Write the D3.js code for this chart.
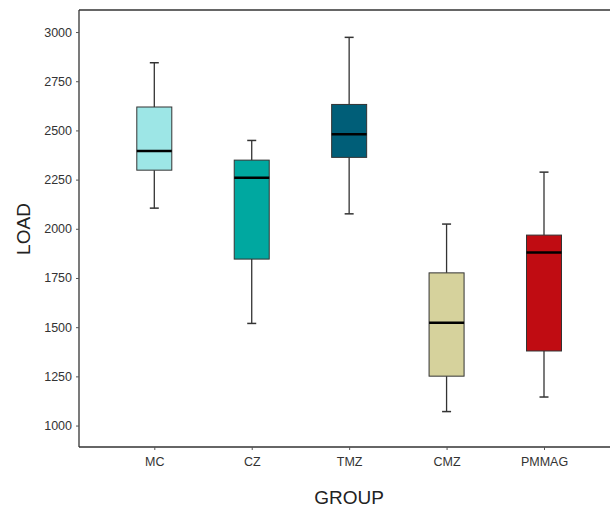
<!DOCTYPE html>
<html><head><meta charset="utf-8">
<script src="https://cdn.jsdelivr.net/npm/d3@7"></script>
<style>body{margin:0;background:#fff}svg{display:block}text{font-family:"Liberation Sans",Arial,sans-serif}</style>
</head><body>
<svg id="c" width="610" height="513"></svg>
<script>
const groups = ["MC","CZ","TMZ","CMZ","PMMAG"];
const whiskerLow = [2105,1519,2076,1071,1145];
const q1 = [2298,1846,2363,1251,1379];
const median = [2395,2259,2480,1522,1880];
const q3 = [2619,2349,2632,1776,1968];
const whiskerHigh = [2844,2449,2973,2024,2288];
const colors = ["#9de6e6","#00a8a0","#005e78","#d6d29c","#c00c12"];
const yTicks = [1000,1250,1500,1750,2000,2250,2500,2750,3000];

(function(){
const svg = d3.select("#c");
const pL = 79, pR = 612, pT = 10, pB = 447;
const x = d3.scalePoint().domain(groups).range([154.3,544]);
const y = d3.scaleLinear().domain([891,3112]).range([pB, pT]);
const bw = 35, cap = 9;

svg.append("line").attr("x1",pL).attr("x2",pR).attr("y1",pT).attr("y2",pT).attr("stroke","#333").attr("stroke-width",1.3);

const data = groups.map((g,i)=>({g,lo:whiskerLow[i],q1:q1[i],med:median[i],q3:q3[i],hi:whiskerHigh[i],c:colors[i]}));
const gb = svg.append("g").selectAll("g").data(data).join("g");
gb.append("line").attr("x1",d=>x(d.g)).attr("x2",d=>x(d.g)).attr("y1",d=>y(d.hi)).attr("y2",d=>y(d.q3)).attr("stroke","#333").attr("stroke-width",1.3);
gb.append("line").attr("x1",d=>x(d.g)).attr("x2",d=>x(d.g)).attr("y1",d=>y(d.q1)).attr("y2",d=>y(d.lo)).attr("stroke","#333").attr("stroke-width",1.3);
gb.append("line").attr("x1",d=>x(d.g)-cap/2).attr("x2",d=>x(d.g)+cap/2).attr("y1",d=>y(d.hi)).attr("y2",d=>y(d.hi)).attr("stroke","#333").attr("stroke-width",1.5);
gb.append("line").attr("x1",d=>x(d.g)-cap/2).attr("x2",d=>x(d.g)+cap/2).attr("y1",d=>y(d.lo)).attr("y2",d=>y(d.lo)).attr("stroke","#333").attr("stroke-width",1.5);
gb.append("rect").attr("x",d=>x(d.g)-bw/2).attr("width",bw).attr("y",d=>y(d.q3)).attr("height",d=>y(d.q1)-y(d.q3)).attr("fill",d=>d.c).attr("stroke","#333").attr("stroke-width",1);
gb.append("line").attr("x1",d=>x(d.g)-bw/2).attr("x2",d=>x(d.g)+bw/2).attr("y1",d=>y(d.med)).attr("y2",d=>y(d.med)).attr("stroke","#000").attr("stroke-width",2.5);

const ya = svg.append("g").attr("transform",`translate(${pL},0)`).call(d3.axisLeft(y).tickValues(yTicks).tickFormat(d3.format("d")).tickSize(3).tickPadding(4));
ya.select(".domain").attr("d",`M0,${pT}V${pB}`).attr("stroke","#333").attr("stroke-width",1.3);
ya.selectAll(".tick line").attr("stroke","#555");
ya.selectAll(".tick text").attr("font-size",12.5).attr("fill","#333").style("font-family","Liberation Sans, Arial, sans-serif");

const xa = svg.append("g").attr("transform",`translate(0,${pB})`).call(d3.axisBottom(x).tickSize(3).tickPadding(7));
xa.select(".domain").attr("d",`M${pL},0H${pR}`).attr("stroke","#333").attr("stroke-width",1.3);
xa.selectAll(".tick line").attr("stroke","#555");
xa.selectAll(".tick text").attr("font-size",12.5).attr("fill","#333").style("font-family","Liberation Sans, Arial, sans-serif");

svg.append("text").attr("x",349).attr("y",504).attr("text-anchor","middle").attr("font-size",19).attr("fill","#222").text("GROUP");
svg.append("text").attr("transform","translate(30,229) rotate(-90)").attr("text-anchor","middle").attr("font-size",19).attr("fill","#222").text("LOAD");
})();
</script>
</body></html>
